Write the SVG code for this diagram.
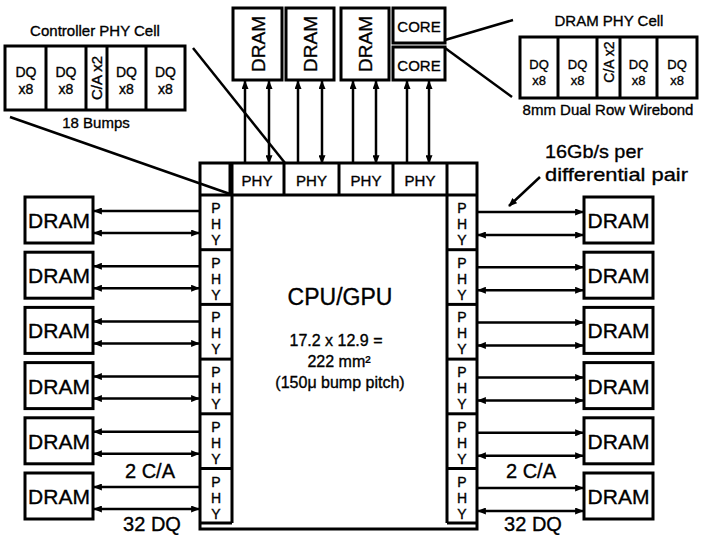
<svg xmlns="http://www.w3.org/2000/svg" width="701" height="535" viewBox="0 0 701 535">
<style>
text{font-family:"Liberation Sans",Arial,Helvetica,sans-serif;fill:#000;stroke:#000;stroke-width:0.35}
.box{fill:#fff;stroke:#000;stroke-width:3}
.ln{fill:none;stroke:#000;stroke-width:2.5}
.dv{fill:none;stroke:#000;stroke-width:3}
.a1{fill:none;stroke:#000;stroke-width:2.5;marker-end:url(#ah)}
.a2{fill:none;stroke:#000;stroke-width:2.5;marker-start:url(#ah);marker-end:url(#ah)}
.c{text-anchor:middle}
.s15{font-size:15px}
.s14{font-size:14px}
.s13{font-size:13px}
.dram{font-size:21px;text-anchor:middle}
.big{font-size:20px;text-anchor:middle}
</style>
<defs>
<marker id="ah" viewBox="0 0 10 8" refX="9" refY="4" markerWidth="9" markerHeight="7" orient="auto-start-reverse" markerUnits="userSpaceOnUse"><path d="M0,0 L10,4 L0,8 z" fill="#000"/></marker>
</defs>

<!-- Controller PHY Cell -->
<g id="controller-phy-cell">
<text x="95" y="36" class="c s15">Controller PHY Cell</text>
<rect x="5" y="46" width="180" height="64" class="box"/>
<line x1="46" y1="46" x2="46" y2="110" class="dv"/>
<line x1="86" y1="46" x2="86" y2="110" class="dv"/>
<line x1="107" y1="46" x2="107" y2="110" class="dv"/>
<line x1="146" y1="46" x2="146" y2="110" class="dv"/>
<text x="26" y="77" class="c s14">DQ</text><text x="26" y="94" class="c s14">x8</text>
<text x="66" y="77" class="c s14">DQ</text><text x="66" y="94" class="c s14">x8</text>
<text transform="translate(101.5,78) rotate(-90)" class="c s15">C/A x2</text>
<text x="126.5" y="77" class="c s14">DQ</text><text x="126.5" y="94" class="c s14">x8</text>
<text x="165.5" y="77" class="c s14">DQ</text><text x="165.5" y="94" class="c s14">x8</text>
<text x="96" y="128" class="c s15">18 Bumps</text>
</g>

<!-- DRAM PHY Cell -->
<g id="dram-phy-cell">
<text x="609" y="26" class="c s15">DRAM PHY Cell</text>
<rect x="520" y="37" width="177" height="61" class="box"/>
<line x1="558" y1="37" x2="558" y2="98" class="dv"/>
<line x1="597" y1="37" x2="597" y2="98" class="dv"/>
<line x1="620" y1="37" x2="620" y2="98" class="dv"/>
<line x1="657" y1="37" x2="657" y2="98" class="dv"/>
<text x="539" y="69" class="c s13">DQ</text><text x="539" y="85" class="c s13">x8</text>
<text x="577.5" y="69" class="c s13">DQ</text><text x="577.5" y="85" class="c s13">x8</text>
<text transform="translate(613.5,62) rotate(-90)" class="c s14">C/A x2</text>
<text x="638.5" y="69" class="c s13">DQ</text><text x="638.5" y="85" class="c s13">x8</text>
<text x="677" y="69" class="c s13">DQ</text><text x="677" y="85" class="c s13">x8</text>
<text x="608" y="115" class="c s15">8mm Dual Row Wirebond</text>
</g>

<!-- Top DRAMs and COREs -->
<g id="top-dram-1"><rect x="233" y="8" width="49" height="72" class="box"/><text transform="translate(265,44) rotate(-90)" class="c" style="font-size:19px">DRAM</text></g>
<g id="top-dram-2"><rect x="286" y="8" width="48" height="72" class="box"/><text transform="translate(317,44) rotate(-90)" class="c" style="font-size:19px">DRAM</text></g>
<g id="top-dram-3"><rect x="341" y="8" width="48" height="72" class="box"/><text transform="translate(372,44) rotate(-90)" class="c" style="font-size:19px">DRAM</text></g>
<g id="core-1"><rect x="393" y="8" width="52" height="35" class="box"/><text x="419" y="32" class="c s15">CORE</text></g>
<g id="core-2"><rect x="393" y="47" width="52" height="33" class="box"/><text x="419" y="71" class="c s15">CORE</text></g>

<!-- CPU/GPU -->
<g id="cpu-gpu">
<rect x="200" y="163" width="277" height="366" class="box"/>
<line x1="200" y1="195" x2="477" y2="195" class="dv"/>
<line x1="232" y1="163" x2="232" y2="523" class="dv"/>
<line x1="447" y1="163" x2="447" y2="523" class="dv"/>
<line x1="200" y1="523" x2="232" y2="523" class="dv"/>
<line x1="447" y1="523" x2="477" y2="523" class="dv"/>
<line x1="230" y1="163" x2="230" y2="195" class="dv"/>
<line x1="284" y1="163" x2="284" y2="195" class="dv"/>
<line x1="339" y1="163" x2="339" y2="195" class="dv"/>
<line x1="393" y1="163" x2="393" y2="195" class="dv"/>
<text x="340" y="305" class="c" style="font-size:23px">CPU/GPU</text>
<text x="336" y="346" class="c" style="font-size:16px">17.2 x 12.9 =</text>
<text x="339" y="367" class="c" style="font-size:16px">222 mm²</text>
<text x="340" y="388" class="c" style="font-size:16px">(150μ bump pitch)</text>
</g>

<!-- Top PHYs -->
<g id="phy-top-1"><text x="257" y="186" class="c s15">PHY</text></g>
<g id="phy-top-2"><text x="311.5" y="186" class="c s15">PHY</text></g>
<g id="phy-top-3"><text x="366" y="186" class="c s15">PHY</text></g>
<g id="phy-top-4"><text x="420" y="186" class="c s15">PHY</text></g>

<!-- Left PHYs -->
<g id="phy-left">
<line x1="200" y1="249.7" x2="232" y2="249.7" class="dv"/>
<line x1="200" y1="304.4" x2="232" y2="304.4" class="dv"/>
<line x1="200" y1="359.1" x2="232" y2="359.1" class="dv"/>
<line x1="200" y1="413.8" x2="232" y2="413.8" class="dv"/>
<line x1="200" y1="468.5" x2="232" y2="468.5" class="dv"/>
<text class="c s14" x="216" y="213">P</text><text class="c s14" x="216" y="229">H</text><text class="c s14" x="216" y="245">Y</text>
<text class="c s14" x="216" y="267.7">P</text><text class="c s14" x="216" y="283.7">H</text><text class="c s14" x="216" y="299.7">Y</text>
<text class="c s14" x="216" y="322.4">P</text><text class="c s14" x="216" y="338.4">H</text><text class="c s14" x="216" y="354.4">Y</text>
<text class="c s14" x="216" y="377.1">P</text><text class="c s14" x="216" y="393.1">H</text><text class="c s14" x="216" y="409.1">Y</text>
<text class="c s14" x="216" y="431.8">P</text><text class="c s14" x="216" y="447.8">H</text><text class="c s14" x="216" y="463.8">Y</text>
<text class="c s14" x="216" y="486.5">P</text><text class="c s14" x="216" y="502.5">H</text><text class="c s14" x="216" y="518.5">Y</text>
</g>

<!-- Right PHYs -->
<g id="phy-right">
<line x1="447" y1="249.7" x2="477" y2="249.7" class="dv"/>
<line x1="447" y1="304.4" x2="477" y2="304.4" class="dv"/>
<line x1="447" y1="359.1" x2="477" y2="359.1" class="dv"/>
<line x1="447" y1="413.8" x2="477" y2="413.8" class="dv"/>
<line x1="447" y1="468.5" x2="477" y2="468.5" class="dv"/>
<text class="c s14" x="462" y="213">P</text><text class="c s14" x="462" y="229">H</text><text class="c s14" x="462" y="245">Y</text>
<text class="c s14" x="462" y="267.7">P</text><text class="c s14" x="462" y="283.7">H</text><text class="c s14" x="462" y="299.7">Y</text>
<text class="c s14" x="462" y="322.4">P</text><text class="c s14" x="462" y="338.4">H</text><text class="c s14" x="462" y="354.4">Y</text>
<text class="c s14" x="462" y="377.1">P</text><text class="c s14" x="462" y="393.1">H</text><text class="c s14" x="462" y="409.1">Y</text>
<text class="c s14" x="462" y="431.8">P</text><text class="c s14" x="462" y="447.8">H</text><text class="c s14" x="462" y="463.8">Y</text>
<text class="c s14" x="462" y="486.5">P</text><text class="c s14" x="462" y="502.5">H</text><text class="c s14" x="462" y="518.5">Y</text>
</g>

<!-- Left DRAMs -->
<g id="dram-left-1"><rect x="25" y="197" width="68" height="46" class="box"/><text x="59" y="228" class="dram">DRAM</text></g>
<g id="dram-left-2"><rect x="25" y="252.2" width="68" height="46" class="box"/><text x="59" y="283.2" class="dram">DRAM</text></g>
<g id="dram-left-3"><rect x="25" y="307.4" width="68" height="46" class="box"/><text x="59" y="338.4" class="dram">DRAM</text></g>
<g id="dram-left-4"><rect x="25" y="362.6" width="68" height="46" class="box"/><text x="59" y="393.6" class="dram">DRAM</text></g>
<g id="dram-left-5"><rect x="25" y="417.8" width="68" height="46" class="box"/><text x="59" y="448.8" class="dram">DRAM</text></g>
<g id="dram-left-6"><rect x="25" y="473" width="68" height="46" class="box"/><text x="59" y="504" class="dram">DRAM</text></g>

<!-- Right DRAMs -->
<g id="dram-right-1"><rect x="584" y="197" width="69" height="46" class="box"/><text x="618.5" y="228" class="dram">DRAM</text></g>
<g id="dram-right-2"><rect x="584" y="252.2" width="69" height="46" class="box"/><text x="618.5" y="283.2" class="dram">DRAM</text></g>
<g id="dram-right-3"><rect x="584" y="307.4" width="69" height="46" class="box"/><text x="618.5" y="338.4" class="dram">DRAM</text></g>
<g id="dram-right-4"><rect x="584" y="362.6" width="69" height="46" class="box"/><text x="618.5" y="393.6" class="dram">DRAM</text></g>
<g id="dram-right-5"><rect x="584" y="417.8" width="69" height="46" class="box"/><text x="618.5" y="448.8" class="dram">DRAM</text></g>
<g id="dram-right-6"><rect x="584" y="473" width="69" height="46" class="box"/><text x="618.5" y="504" class="dram">DRAM</text></g>

<!-- Connectors -->
<g id="connectors">
<line x1="193" y1="48" x2="285" y2="163" class="ln"/>
<line x1="10" y1="117" x2="230" y2="194" class="ln"/>
<line x1="445" y1="40" x2="513" y2="20" class="ln"/>
<line x1="445" y1="48" x2="512" y2="97" class="ln"/>
<line x1="540" y1="177" x2="509" y2="206" class="a1"/>

<line x1="245" y1="163" x2="245" y2="81" class="a1"/>
<line x1="269" y1="163" x2="269" y2="81" class="a2"/>
<line x1="298" y1="163" x2="298" y2="81" class="a1"/>
<line x1="322" y1="163" x2="322" y2="81" class="a2"/>
<line x1="353" y1="163" x2="353" y2="81" class="a1"/>
<line x1="376" y1="163" x2="376" y2="81" class="a2"/>
<line x1="407" y1="163" x2="407" y2="81" class="a1"/>
<line x1="429" y1="163" x2="429" y2="81" class="a2"/>

<line x1="200" y1="211" x2="94" y2="211" class="a1"/><line x1="199" y1="233" x2="94" y2="233" class="a2"/>
<line x1="200" y1="266.2" x2="94" y2="266.2" class="a1"/><line x1="199" y1="288.2" x2="94" y2="288.2" class="a2"/>
<line x1="200" y1="321.4" x2="94" y2="321.4" class="a1"/><line x1="199" y1="343.4" x2="94" y2="343.4" class="a2"/>
<line x1="200" y1="376.6" x2="94" y2="376.6" class="a1"/><line x1="199" y1="398.6" x2="94" y2="398.6" class="a2"/>
<line x1="200" y1="431.8" x2="94" y2="431.8" class="a1"/><line x1="199" y1="453.8" x2="94" y2="453.8" class="a2"/>
<line x1="200" y1="487" x2="94" y2="487" class="a1"/><line x1="199" y1="509" x2="94" y2="509" class="a2"/>

<line x1="477" y1="212" x2="583" y2="212" class="a1"/><line x1="478" y1="235" x2="583" y2="235" class="a2"/>
<line x1="477" y1="267.2" x2="583" y2="267.2" class="a1"/><line x1="478" y1="290.2" x2="583" y2="290.2" class="a2"/>
<line x1="477" y1="322.4" x2="583" y2="322.4" class="a1"/><line x1="478" y1="345.4" x2="583" y2="345.4" class="a2"/>
<line x1="477" y1="377.6" x2="583" y2="377.6" class="a1"/><line x1="478" y1="400.6" x2="583" y2="400.6" class="a2"/>
<line x1="477" y1="432.8" x2="583" y2="432.8" class="a1"/><line x1="478" y1="455.8" x2="583" y2="455.8" class="a2"/>
<line x1="477" y1="488" x2="583" y2="488" class="a1"/><line x1="478" y1="511" x2="583" y2="511" class="a2"/>
</g>

<!-- Labels -->
<g id="labels">
<text x="545" y="158" style="font-size:19px" textLength="98" lengthAdjust="spacingAndGlyphs">16Gb/s per</text>
<text x="545" y="181" style="font-size:19px" textLength="143" lengthAdjust="spacingAndGlyphs">differential pair</text>
<text x="150" y="478" class="big">2 C/A</text>
<text x="152" y="531" class="big">32 DQ</text>
<text x="531" y="478" class="big">2 C/A</text>
<text x="533" y="531" class="big">32 DQ</text>
</g>
</svg>
